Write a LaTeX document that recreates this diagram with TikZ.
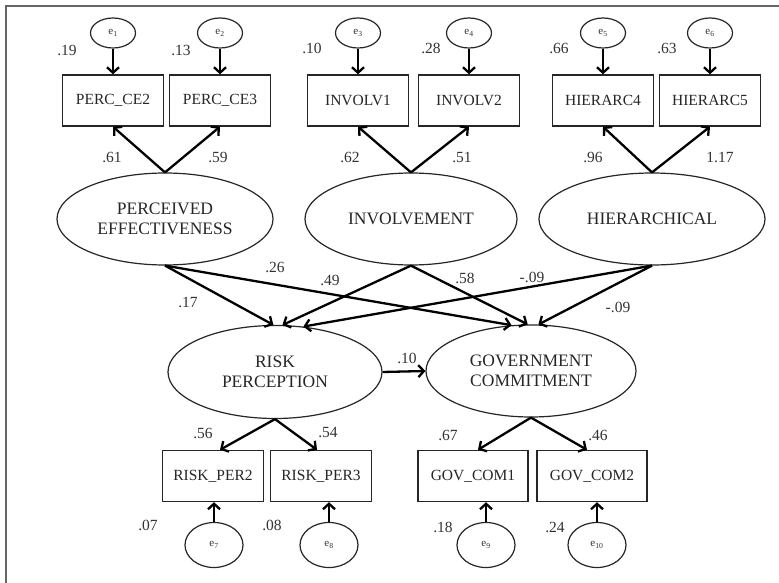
\documentclass[tikz,border=0pt]{standalone}
\usepackage{fontspec}
\setmainfont{Liberation Serif}
\usetikzlibrary{arrows.meta,shapes.geometric,calc}

\begin{document}
\begin{tikzpicture}[x=1pt,y=-1pt,
  latent/.style={ellipse,draw=black!85,line width=1.2pt,inner sep=0pt,align=center,
    font=\fontsize{17.5}{20.5}\selectfont,text=black!85},
  obs/.style={rectangle,draw=black!85,line width=1.4pt,minimum width=101pt,minimum height=51pt,
    inner sep=0pt,font=\fontsize{15.5}{17}\selectfont,text=black!85},
  errtop/.style={ellipse,draw=black!85,line width=1.2pt,inner sep=0pt,minimum width=45pt,
    minimum height=30pt,font=\fontsize{11}{12}\selectfont,text=black!80},
  errbot/.style={errtop,minimum width=58pt,minimum height=45pt},
  val/.style={font=\fontsize{15.5}{17}\selectfont,text=black!80,inner sep=0pt},
  arr/.style={line width=2.3pt,-{Straight Barb[length=5.5pt,width=12pt]}},
]
\useasboundingbox (0,0) rectangle (779,583);
\fill[white] (0,0) rectangle (779,583);

% frame (only the top and left edges fall inside the picture)
\draw[black!60,line width=2.5pt] (6,583) -- (6,6) -- (779,6);

% latent variables
\node[latent,minimum width=216pt,minimum height=92pt] (pe) at (165,219) {PERCEIVED\\EFFECTIVENESS};
\node[latent,minimum width=212pt,minimum height=92pt] (inv) at (411,219) {INVOLVEMENT};
\node[latent,minimum width=226pt,minimum height=92pt] (hier) at (652,219) {HIERARCHICAL};
\node[latent,minimum width=214pt,minimum height=93pt] (risk) at (275,372) {RISK\\PERCEPTION};
\node[latent,minimum width=210pt,minimum height=92pt] (gov) at (531,371) {GOVERNMENT\\COMMITMENT};

% indicators, top row
\node[obs] (ce2) at (113,100.5) {PERC\_CE2};
\node[obs] (ce3) at (220,100.5) {PERC\_CE3};
\node[obs] (inv1) at (358,100.5) {INVOLV1};
\node[obs] (inv2) at (469,100.5) {INVOLV2};
\node[obs] (h4) at (603,100.5) {HIERARC4};
\node[obs] (h5) at (710,100.5) {HIERARC5};

% indicators, bottom row
\node[obs] (rp2) at (213,476) {RISK\_PER2};
\node[obs] (rp3) at (321,476) {RISK\_PER3};
\node[obs,minimum width=110pt] (gc1) at (473,476) {GOV\_COM1};
\node[obs,minimum width=110pt] (gc2) at (592,476) {GOV\_COM2};

% error terms
\node[errtop] (e1) at (113,33) {e\textsubscript{1}};
\node[errtop] (e2) at (220,33) {e\textsubscript{2}};
\node[errtop] (e3) at (358,33) {e\textsubscript{3}};
\node[errtop] (e4) at (469,33) {e\textsubscript{4}};
\node[errtop] (e5) at (603,33) {e\textsubscript{5}};
\node[errtop] (e6) at (710,33) {e\textsubscript{6}};
\node[errbot] (e7) at (214,545) {e\textsubscript{7}};
\node[errbot] (e8) at (329,545) {e\textsubscript{8}};
\node[errbot] (e9) at (486,545) {e\textsubscript{9}};
\node[errbot] (e10) at (597,545) {e\textsubscript{10}};

% error paths
\foreach \e/\b in {e1/ce2,e2/ce3,e3/inv1,e4/inv2,e5/h4,e6/h5}
  \draw[arr] (\e.south) -- (\b.north);
\foreach \e/\b in {e7/rp2,e8/rp3,e9/gc1,e10/gc2}
  \draw[arr] (\e.north) -- (\e.north |- \b.south);

% loadings
\draw[arr] (pe.north) -- (ce2.south);
\draw[arr] (pe.north) -- (ce3.south);
\draw[arr] (inv.north) -- (inv1.south);
\draw[arr] (inv.north) -- (inv2.south);
\draw[arr] (hier.north) -- (h4.south);
\draw[arr] (hier.north) -- (h5.south);
\draw[arr] (risk.south) -- ([xshift=7pt]rp2.north);
\draw[arr] (risk.south) -- ([xshift=-4pt]rp3.north);
\draw[arr] (gov.south) -- ([xshift=5pt]gc1.north);
\draw[arr] (gov.south) -- ([xshift=-5pt]gc2.north);

% structural paths
\draw[arr] (pe.south) -- (risk.92);
\draw[arr] (pe.south) -- (gov.113);
\draw[arr] (inv.south) -- (risk.81);
\draw[arr] (inv.south) -- (gov.94);
\draw[arr] (hier.south) -- (risk.58);
\draw[arr] (hier.south) -- (gov.81);
\draw[arr] (risk.east) -- (gov.west);

% coefficients
\node[val] (r1) at (67,50) {.19};
\node[val] (r2) at (181,50) {.13};
\node[val] (r3) at (312,48) {.10};
\node[val] (r4) at (431,48) {.28};
\node[val] (r5) at (559,48) {.66};
\node[val] (r6) at (667,48) {.63};
\node[val] (l1) at (112,157) {.61};
\node[val] (l2) at (218,157) {.59};
\node[val] (l3) at (350,157) {.62};
\node[val] (l4) at (462,157) {.51};
\node[val] (l5) at (593,157) {.96};
\node[val] (l6) at (720,157) {1.17};
\node[val] (s1) at (275,267) {.26};
\node[val] (s2) at (330,280) {.49};
\node[val] (s3) at (188,302) {.17};
\node[val] (s4) at (465,278) {.58};
\node[val] (s5) at (532,277) {-.09};
\node[val] (s6) at (618,307) {-.09};
\node[val] (s7) at (407,358) {.10};
\node[val] (l7) at (203,433) {.56};
\node[val] (l8) at (328,433) {.54};
\node[val] (l9) at (448,435) {.67};
\node[val] (l10) at (598,435) {.46};
\node[val] (r7) at (148,525) {.07};
\node[val] (r8) at (272,525) {.08};
\node[val] (r9) at (443,527) {.18};
\node[val] (r10) at (555,527) {.24};
\end{tikzpicture}
\end{document}
